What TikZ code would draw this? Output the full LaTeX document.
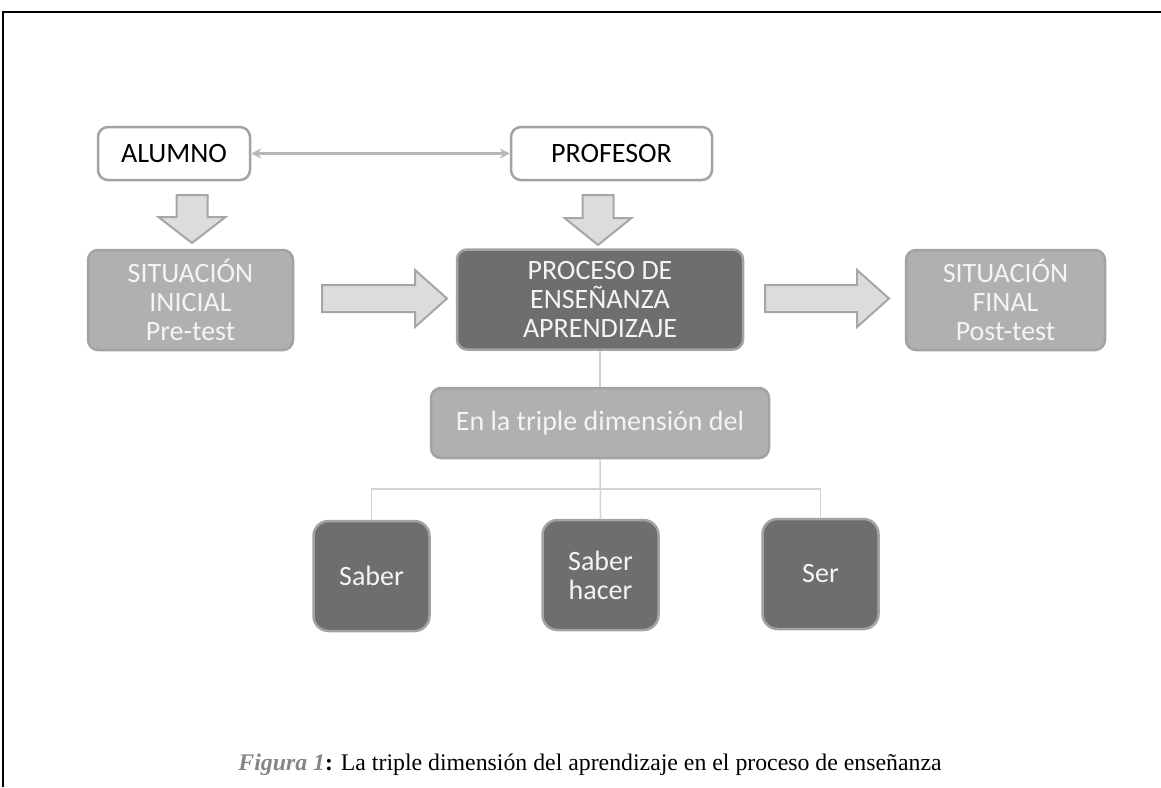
\documentclass[tikz,border=0pt]{standalone}
\usepackage{fontspec}
\setmainfont{Liberation Serif}
\newfontfamily\boxfont{Carlito}
\usetikzlibrary{arrows.meta}
\definecolor{lightfill}{HTML}{B0B0B0}
\definecolor{darkfill}{HTML}{6E6E6E}
\definecolor{boxedge}{HTML}{A3A3A3}
\definecolor{blockfill}{HTML}{DCDCDC}
\definecolor{blockedge}{HTML}{A6A6A6}
\definecolor{linkgray}{HTML}{D3D3D3}
\definecolor{duplex}{HTML}{B8B8B8}
\definecolor{textwhite}{HTML}{F4F4F4}
\definecolor{figgray}{HTML}{858585}
\tikzset{
  basebox/.style={rounded corners=10pt, line width=2.5pt, align=center,
    inner sep=0pt, font=\boxfont\fontsize{28}{29}\selectfont},
  whitebox/.style={basebox, draw=boxedge, fill=white, text=black},
  lightbox/.style={basebox, draw=boxedge, fill=lightfill, text=textwhite},
  darkbox/.style={basebox, draw=boxedge, fill=darkfill, text=textwhite},
  leafbox/.style={darkbox, rounded corners=15pt, minimum width=116pt, minimum height=110pt},
  blockarrow/.style={fill=blockfill, draw=blockedge, line width=2pt, line join=miter},
  link/.style={draw=linkgray, line width=1.5pt},
}
\begin{document}
\begin{tikzpicture}[x=1pt,y=-1pt]
\useasboundingbox (0,0) rectangle (1161,787);
% frame
\draw[line width=2.5pt] (3,787) -- (3,12) -- (1161,12);

% top row
\node[whitebox, minimum width=152pt, minimum height=53pt] (alumno) at (174,153.5) {ALUMNO};
\node[whitebox, minimum width=201pt, minimum height=53pt] (profesor) at (611.5,153.5) {PROFESOR};
\draw[draw=duplex, line width=3pt, {Stealth[length=10pt,width=10pt]}-{Stealth[length=10pt,width=10pt]}]
  (alumno.east) -- (profesor.west);

% middle row
\node[lightbox, minimum width=205pt, minimum height=100pt] (inicial) at (190.5,300) {SITUACIÓN\\INICIAL\\Pre-test};
\node[darkbox, minimum width=286pt, minimum height=100pt] (proceso) at (600,299.5) {PROCESO DE\\ENSEÑANZA\\APRENDIZAJE};
\node[lightbox, minimum width=199pt, minimum height=100pt] (final) at (1005.5,300) {SITUACIÓN\\FINAL\\Post-test};

% block arrows down
\draw[blockarrow] (176.5,195) -- (207.5,195) -- (207.5,217) -- (225.5,217) -- (192,243)
  -- (158.5,217) -- (176.5,217) -- cycle;
\draw[blockarrow] (582.5,195) -- (613.5,195) -- (613.5,218) -- (631.5,218) -- (598,245)
  -- (564.5,218) -- (582.5,218) -- cycle;
% block arrows right
\draw[blockarrow] (322,285) -- (415,285) -- (415,270) -- (447,298.5) -- (415,327)
  -- (415,312) -- (322,312) -- cycle;
\draw[blockarrow] (765,285) -- (857,285) -- (857,270) -- (889,298.5) -- (857,327)
  -- (857,312) -- (765,312) -- cycle;

% tree
\node[lightbox, minimum width=338pt, minimum height=70pt] (dimension) at (600,423) {En la triple dimensión del};
\node[leafbox] (saber) at (371.5,576) {Saber};
\node[leafbox] (hacer) at (600.5,575) {Saber\\hacer};
\node[leafbox] (ser) at (820.5,574) {Ser};
\coordinate (split) at (600,489);
\draw[link] (proceso.south) -- (dimension.north);
\draw[link] (dimension.south) -- (hacer.north);
\draw[link] (saber.north) |- (split) -| (ser.north);

% caption
\node[font=\fontsize{23.8}{28}\selectfont, inner sep=0pt] (caption) at (590,765)
  {{\color{figgray}\bfseries\itshape Figura 1}\textbf{:} La triple dimensión del aprendizaje en el proceso de enseñanza};
\end{tikzpicture}
\end{document}
